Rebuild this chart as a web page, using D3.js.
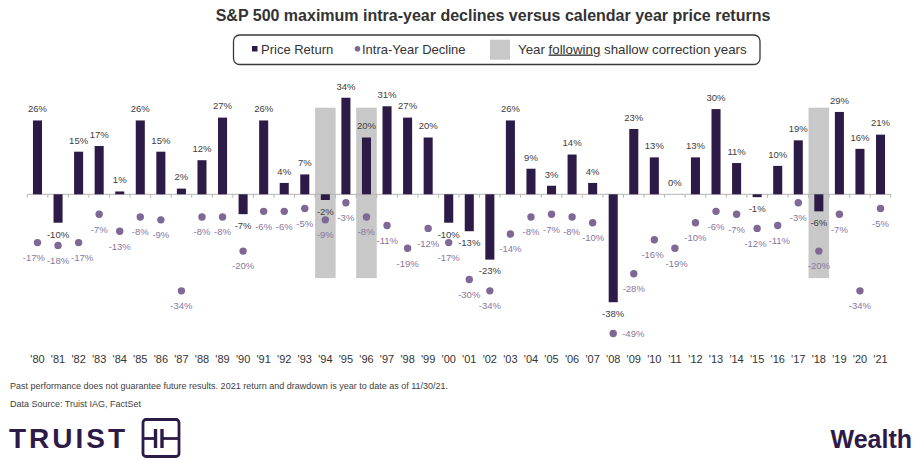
<!DOCTYPE html>
<html>
<head>
<meta charset="utf-8">
<script src="https://cdn.jsdelivr.net/npm/d3@7"></script>
<style>
  html, body { margin: 0; padding: 0; background: #fff; }
  svg { display: block; font-family: "Liberation Sans", Arial, sans-serif; }
</style>
</head>
<body>
<svg id="chart" width="923" height="460"></svg>
<script>
// ---- data ----
const years = ["'80","'81","'82","'83","'84","'85","'86","'87","'88","'89",
  "'90","'91","'92","'93","'94","'95","'96","'97","'98","'99",
  "'00","'01","'02","'03","'04","'05","'06","'07","'08","'09",
  "'10","'11","'12","'13","'14","'15","'16","'17","'18","'19","'20","'21"];
const priceReturn = [26,-10,15,17,1,26,15,2,12,27,
  -7,26,4,7,-2,34,20,31,27,20,
  -10,-13,-23,26,9,3,14,4,-38,23,
  13,0,13,30,11,-1,10,19,-6,29,16,21];
const intraYearDecline = [-17,-18,-17,-7,-13,-8,-9,-34,-8,-8,
  -20,-6,-6,-5,-9,-3,-8,-11,-19,-12,
  -17,-30,-34,-14,-8,-7,-8,-10,-49,-28,
  -16,-19,-10,-6,-7,-12,-11,-3,-20,-7,-34,-5];
const shadedYears = ["'94","'96","'18"];
const shadeExtent = [30.5, -29.5];

const title = "S&P 500 maximum intra-year declines versus calendar year price returns";
const footnotes = [
  "Past performance does not guarantee future results. 2021 return and drawdown is year to date as of 11/30/21.",
  "Data Source: Truist IAG, FactSet"
];

// ---- colors ----
const barColor = "#2c1a47";
const dotColor = "#7d6896";
const dotLabelColor = "#8677a0";
const textColor = "#404040";

const svg = d3.select("#chart");

// ---- scales ----
const x = d3.scaleBand().domain(years).range([27.2, 890.8]).padding(0);
const y = d3.scaleLinear().domain([-50, 35]).range([336.3, 94.9]);
const bw = x.bandwidth();
const barW = bw * 0.44;
const cx = d => x(d) + bw / 2;

// ---- title ----
svg.append("text")
  .attr("x", 493).attr("y", 21)
  .attr("text-anchor", "middle")
  .attr("font-size", 16).attr("font-weight", "bold")
  .attr("fill", "#333")
  .text(title);

// ---- legend ----
const lg = svg.append("g");
lg.append("rect").attr("x", 233.5).attr("y", 35).attr("width", 526.5).attr("height", 29.5)
  .attr("rx", 6).attr("fill", "#fff").attr("stroke", "#3a3a3a").attr("stroke-width", 1.3);
lg.append("rect").attr("x", 252).attr("y", 46).attr("width", 5.5).attr("height", 5.5).attr("fill", barColor);
lg.append("text").attr("x", 261).attr("y", 53.5).attr("font-size", 13).attr("fill", "#333").text("Price Return");
lg.append("circle").attr("cx", 357.5).attr("cy", 48.7).attr("r", 2.8).attr("fill", dotColor);
lg.append("text").attr("x", 362).attr("y", 53.5).attr("font-size", 13).attr("fill", "#333").text("Intra-Year Decline");
lg.append("rect").attr("x", 490).attr("y", 39.7).attr("width", 20).attr("height", 20).attr("fill", "#c8c8c8");
const lt = lg.append("text").attr("x", 518).attr("y", 53.5).attr("font-size", 13.3).attr("fill", "#333");
lt.append("tspan").text("Year ");
lt.append("tspan").attr("text-decoration", "underline").text("following");
lt.append("tspan").text(" shallow correction years");

// ---- shaded years ----
svg.append("g").selectAll("rect").data(shadedYears).join("rect")
  .attr("x", d => x(d)).attr("width", bw)
  .attr("y", y(shadeExtent[0])).attr("height", y(shadeExtent[1]) - y(shadeExtent[0]))
  .attr("fill", "#c8c8c8");

// ---- zero axis ----
const ax = svg.append("g");
ax.append("line").attr("x1", x.range()[0]).attr("x2", x.range()[1])
  .attr("y1", y(0)).attr("y2", y(0)).attr("stroke", "#b5b5b5").attr("stroke-width", 1);
const tickPos = years.map(d => x(d)).concat([x.range()[1]]);
ax.selectAll("line.tick").data(tickPos).join("line").attr("class", "tick")
  .attr("x1", d => d).attr("x2", d => d)
  .attr("y1", y(0)).attr("y2", y(0) + 3.5)
  .attr("stroke", "#b5b5b5").attr("stroke-width", 1);

const data = years.map((yr, i) => ({ yr, pr: priceReturn[i], dd: intraYearDecline[i] }));

// ---- bars ----
svg.append("g").selectAll("rect").data(data).join("rect")
  .attr("x", d => cx(d.yr) - barW / 2).attr("width", barW)
  .attr("y", d => y(Math.max(0, d.pr)))
  .attr("height", d => Math.abs(y(d.pr) - y(0)))
  .attr("fill", barColor);

// ---- bar labels ----
svg.append("g").selectAll("text").data(data).join("text")
  .attr("x", d => cx(d.yr))
  .attr("y", d => d.pr >= 0 ? y(d.pr) - 11.5 : y(d.pr) + 11.5)
  .attr("dy", "0.35em")
  .attr("text-anchor", "middle").attr("font-size", 9.5).attr("fill", textColor)
  .text(d => d.pr + "%");

// ---- dots ----
svg.append("g").selectAll("circle").data(data).join("circle")
  .attr("cx", d => cx(d.yr)).attr("cy", d => y(d.dd)).attr("r", 3.7)
  .attr("fill", dotColor);

// ---- dot labels (with simple horizontal de-overlap) ----
const side = d => d.dd < -45;
const dl = svg.append("g").selectAll("text").data(data).join("text")
  .attr("x", d => side(d) ? cx(d.yr) + 9 : cx(d.yr))
  .attr("y", d => side(d) ? y(d.dd) : y(d.dd) + 15)
  .attr("dy", "0.35em")
  .attr("text-anchor", d => side(d) ? "start" : "middle")
  .attr("font-size", 9.5).attr("fill", dotLabelColor)
  .text(d => d.dd + "%");

const lab = [];
dl.each(function(d) {
  if (side(d)) return;
  lab.push({ node: this, x: cx(d.yr), y: y(d.dd) + 15, w: this.getComputedTextLength() });
});
for (let iter = 0; iter < 20; iter++) {
  for (let i = 0; i < lab.length - 1; i++) {
    const a = lab[i], b = lab[i + 1];
    if (Math.abs(a.y - b.y) > 9) continue;
    const ov = (a.x + a.w / 2 + 2) - (b.x - b.w / 2);
    if (ov > 0) { a.x -= ov / 2; b.x += ov / 2; }
  }
}
lab.forEach(l => d3.select(l.node).attr("x", l.x));

// ---- year labels ----
svg.append("g").selectAll("text").data(years).join("text")
  .attr("x", d => cx(d)).attr("y", 363)
  .attr("text-anchor", "middle").attr("font-size", 11).attr("fill", "#333")
  .text(d => d);

// ---- footnotes ----
svg.append("g").selectAll("text").data(footnotes).join("text")
  .attr("x", 10).attr("y", (d, i) => 389 + i * 18)
  .attr("font-size", 9).attr("fill", textColor)
  .text(d => d);

// ---- logo ----
const logoColor = "#2e1a47";
svg.append("text").attr("x", 9).attr("y", 448)
  .attr("font-size", 28).attr("font-weight", "bold").attr("letter-spacing", 3)
  .attr("fill", logoColor).text("TRUIST");
const lgo = svg.append("g").attr("stroke", logoColor).attr("fill", "none").attr("stroke-width", 2.8);
lgo.append("rect").attr("x", 143).attr("y", 419.5).attr("width", 36).attr("height", 37).attr("rx", 3);
lgo.append("line").attr("x1", 143).attr("x2", 155).attr("y1", 438.5).attr("y2", 438.5);
lgo.append("line").attr("x1", 162).attr("x2", 179).attr("y1", 438.5).attr("y2", 438.5);
lgo.append("line").attr("x1", 155.5).attr("x2", 155.5).attr("y1", 429).attr("y2", 448).attr("stroke-width", 3.4);
lgo.append("line").attr("x1", 162).attr("x2", 162).attr("y1", 429).attr("y2", 448).attr("stroke-width", 3.4);
svg.append("text").attr("x", 912).attr("y", 448)
  .attr("text-anchor", "end")
  .attr("font-size", 25).attr("font-weight", "bold")
  .attr("fill", logoColor).text("Wealth");
</script>
</body>
</html>
